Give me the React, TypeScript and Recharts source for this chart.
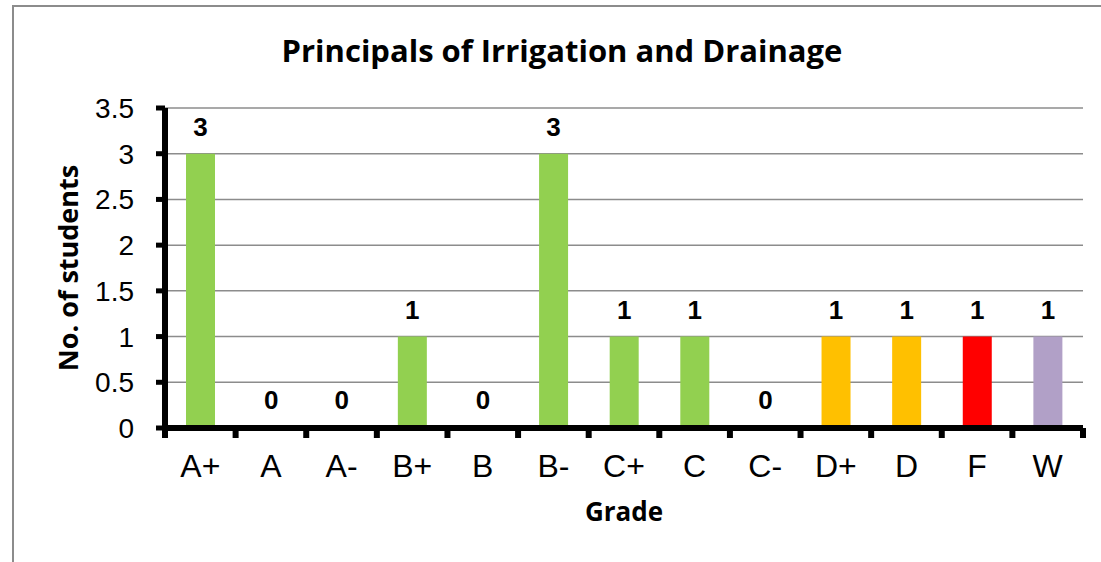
import { BarChart, Bar, XAxis, YAxis, CartesianGrid, Cell, LabelList, Label } from "recharts";

const grades = ["A+", "A", "A-", "B+", "B", "B-", "C+", "C", "C-", "D+", "D", "F", "W"];
const students = [3, 0, 0, 1, 0, 3, 1, 1, 0, 1, 1, 1, 1];
const yTicks = [0, 0.5, 1, 1.5, 2, 2.5, 3, 3.5];

const GREEN = "#92D050";
const GOLD = "#FFC000";
const RED = "#FF0000";
const LILAC = "#B1A0C7";
const barColors = [GREEN, GREEN, GREEN, GREEN, GREEN, GREEN, GREEN, GREEN, GREEN, GOLD, GOLD, RED, LILAC];

const data = grades.map((grade, i) => ({ grade, students: students[i] }));

const sans = "'Liberation Sans', Arial, sans-serif";
const heading = "'Open Sans', Lato, sans-serif";

// category label plus a tick mark on each band edge, like Excel's "between categories" ticks
function GradeTick(props: any) {
  const { x, y, payload, index } = props;
  const half = payload.offset || 0;
  const last = index === grades.length - 1;
  return (
    <g>
      <line x1={x - half} x2={x - half} y1={y} y2={y + 10} stroke="#000" strokeWidth={6} />
      {last && <line x1={x + half} x2={x + half} y1={y} y2={y + 10} stroke="#000" strokeWidth={6} />}
      <text x={x} y={y + 26} dy="0.71em" textAnchor="middle" fill="#000" fontSize={32} fontFamily={sans}>
        {payload.value}
      </text>
    </g>
  );
}

export default function App() {
  return (
    <div
      style={{
        position: "absolute",
        left: 0,
        top: 0,
        width: 1101,
        height: 562,
        overflow: "hidden",
        background: "#fff",
      }}
    >
      <div
        style={{
          position: "absolute",
          left: 12,
          top: 5,
          right: -10,
          bottom: -10,
          border: "2px solid #8c8c8c",
        }}
      />
      <div
        style={{
          position: "absolute",
          left: 0,
          width: 1124,
          top: 28,
          textAlign: "center",
          fontFamily: heading,
          fontWeight: 700,
          fontSize: 31,
          color: "#000",
          lineHeight: "44px",
        }}
      >
        Principals of Irrigation and Drainage
      </div>
      <div style={{ position: "absolute", left: 0, top: 0 }}>
        <BarChart
          width={1101}
          height={562}
          data={data}
          margin={{ top: 108, right: 18, bottom: 34, left: 55 }}
          barSize={29}
        >
          <CartesianGrid vertical={false} stroke="#8c8c8c" strokeWidth={1.5} />
          <Bar dataKey="students" minPointSize={1} isAnimationActive={false}>
            {data.map((d, i) => (
              <Cell key={d.grade} fill={d.students === 0 ? "none" : barColors[i]} />
            ))}
            <LabelList
              dataKey="students"
              position="top"
              offset={18}
              style={{ fill: "#000", fontSize: 26, fontWeight: 700, fontFamily: sans }}
            />
          </Bar>
          <XAxis
            dataKey="grade"
            height={100}
            axisLine={{ stroke: "#000", strokeWidth: 6 }}
            tickLine={false}
            tickSize={0}
            tickMargin={0}
            tick={<GradeTick />}
            interval={0}
          >
            <Label
              value="Grade"
              position="insideBottom"
              offset={7}
              style={{ fill: "#000", fontSize: 26, fontWeight: 700, fontFamily: heading }}
            />
          </XAxis>
          <YAxis
            width={110}
            domain={[0, 3.5]}
            ticks={yTicks}
            interval={0}
            axisLine={{ stroke: "#000", strokeWidth: 6 }}
            tickLine={{ stroke: "#000", strokeWidth: 5 }}
            tickSize={9}
            tickMargin={22}
            tick={{ fill: "#000", fontSize: 28, fontFamily: sans }}
          >
            <Label
              value="No. of students"
              angle={-90}
              position="insideLeft"
              offset={13}
              style={{ fill: "#000", fontSize: 27, fontWeight: 700, fontFamily: heading, textAnchor: "middle" }}
            />
          </YAxis>
        </BarChart>
      </div>
    </div>
  );
}
